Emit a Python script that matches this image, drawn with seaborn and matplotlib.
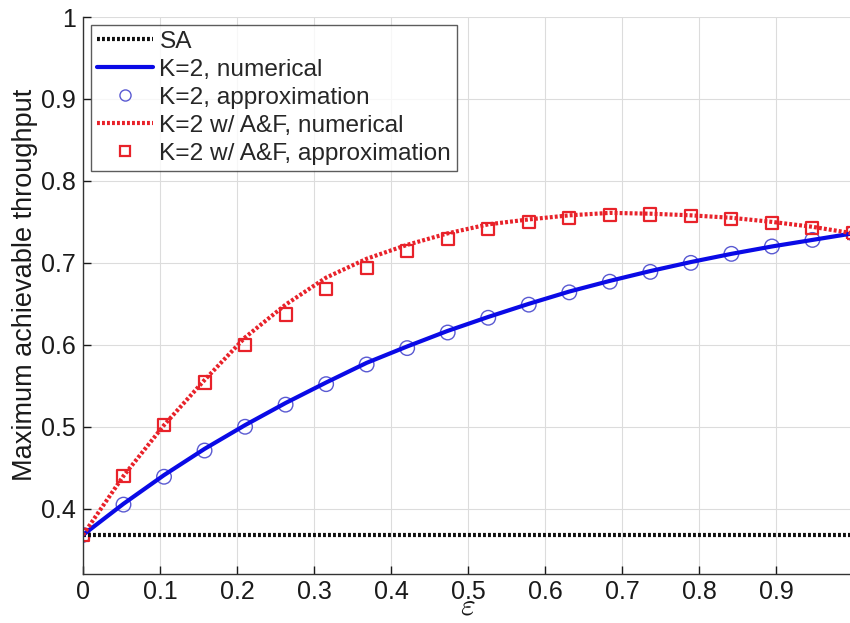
import numpy as np
import pandas as pd
import matplotlib
matplotlib.use("Agg")
import matplotlib.pyplot as plt
from matplotlib.lines import Line2D
from matplotlib.ticker import FuncFormatter
import seaborn as sns

# Access probability epsilon, 20 evaluation points on [0, 1]
eps = [i / 19 for i in range(20)]

# Slotted ALOHA baseline (1/e)
sa_value = 0.3679

# K=2 without A&F
k2_numerical = [0.368, 0.406, 0.441, 0.473, 0.502, 0.529, 0.554, 0.578, 0.598, 0.617,
                0.634, 0.650, 0.665, 0.678, 0.690, 0.701, 0.711, 0.720, 0.728, 0.736]
k2_approx = [0.368, 0.405, 0.439, 0.471, 0.500, 0.527, 0.552, 0.576, 0.596, 0.615,
             0.633, 0.649, 0.664, 0.677, 0.689, 0.700, 0.711, 0.720, 0.728, 0.736]

# K=2 with A&F
af_numerical = [0.368, 0.440, 0.502, 0.557, 0.609, 0.649, 0.682, 0.705, 0.722, 0.736,
                0.747, 0.753, 0.758, 0.761, 0.760, 0.758, 0.755, 0.750, 0.744, 0.736]
af_approx = [0.368, 0.440, 0.502, 0.554, 0.600, 0.637, 0.668, 0.694, 0.714, 0.729,
             0.741, 0.750, 0.755, 0.758, 0.759, 0.757, 0.753, 0.749, 0.743, 0.736]

x_ticks = [0, 0.1, 0.2, 0.3, 0.4, 0.5, 0.6, 0.7, 0.8, 0.9, 1.0]
y_ticks = [0.4, 0.5, 0.6, 0.7, 0.8, 0.9, 1.0]

df = pd.DataFrame({
    "eps": eps,
    "sa": [sa_value] * len(eps),
    "k2_num": k2_numerical,
    "k2_apx": k2_approx,
    "af_num": af_numerical,
    "af_apx": af_approx,
})

sns.set_theme(style="white")
plt.rcParams["font.family"] = ["Liberation Sans", "DejaVu Sans"]
plt.rcParams["mathtext.fontset"] = "cm"

fig = plt.figure(figsize=(8.5, 6.23), dpi=100)
ax = fig.add_axes([0.0976, 0.0782, 0.9059, 0.8945])

blue = "#0a0ae6"
blue_mk = "#5a5ad2"
red = "#e8222a"
dots = (0, (0.7, 0.5))

sns.lineplot(data=df, x="eps", y="sa", ax=ax, color="#111111", lw=3.0,
             linestyle=dots, label="SA")
sns.lineplot(data=df, x="eps", y="k2_num", ax=ax, color=blue, lw=3.0,
             label="K=2, numerical")
sns.scatterplot(data=df, x="eps", y="k2_apx", ax=ax, marker="o", s=110,
                facecolor="none", edgecolor=blue_mk, linewidth=1.0,
                label="K=2, approximation")
sns.lineplot(data=df, x="eps", y="af_num", ax=ax, color=red, lw=3.0,
             linestyle=dots, label="K=2 w/ A&F, numerical")
sns.scatterplot(data=df, x="eps", y="af_apx", ax=ax, marker="s", s=75,
                facecolor="none", edgecolor=red, linewidth=1.6,
                label="K=2 w/ A&F, approximation")

ax.set_xlim(0, 1)
ax.set_ylim(0.32, 1)
ax.set_xticks(x_ticks)
ax.set_yticks(y_ticks)
ax.xaxis.set_major_formatter(FuncFormatter(lambda v, p: "0" if v == 0 else ("" if abs(v - 1) < 1e-9 else f"{v:.1f}")))
ax.yaxis.set_major_formatter(FuncFormatter(lambda v, p: "1" if abs(v - 1) < 1e-9 else f"{v:.1f}"))
ax.tick_params(axis="both", direction="in", length=6, width=1, labelsize=18,
               colors="#1a1a1a", pad=5, left=True, bottom=True)
ax.tick_params(axis="x", pad=4)
ax.grid(True, color="#dcdcdc", lw=0.8)

for side in ["top", "right"]:
    ax.spines[side].set_visible(False)
for side in ["left", "bottom"]:
    ax.spines[side].set_color("#333333")
    ax.spines[side].set_linewidth(1.0)

ax.set_ylabel("Maximum achievable throughput", fontsize=19.5, color="#1a1a1a")
ax.yaxis.set_label_coords(-0.058, 0.52)
ax.set_xlabel("")
fig.text(0.5506, 1.5 / 623, r"$\varepsilon$", fontsize=23, ha="center", va="bottom",
         color="#1a1a1a")

# Legend with hollow marker handles
handles = [
    Line2D([], [], color="#111111", lw=3.0, linestyle=dots),
    Line2D([], [], color=blue, lw=3.0),
    Line2D([], [], linestyle="none", marker="o", markersize=8, markerfacecolor="none",
           markeredgecolor=blue_mk, markeredgewidth=1.0),
    Line2D([], [], color=red, lw=3.0, linestyle=dots),
    Line2D([], [], linestyle="none", marker="s", markersize=6.5, markerfacecolor="none",
           markeredgecolor=red, markeredgewidth=1.6),
]
labels = ["SA", "K=2, numerical", "K=2, approximation",
          "K=2 w/ A&F, numerical", "K=2 w/ A&F, approximation"]
leg = ax.legend(handles, labels, loc="upper left", bbox_to_anchor=(0.0105, 0.986),
                fontsize=17.6, frameon=True, fancybox=False, handlelength=2.3,
                handletextpad=0.25, borderpad=0.25, labelspacing=0.24, borderaxespad=0)
leg.get_frame().set_edgecolor("#333333")
leg.get_frame().set_linewidth(1.0)

fig.savefig("out.png", dpi=100)
